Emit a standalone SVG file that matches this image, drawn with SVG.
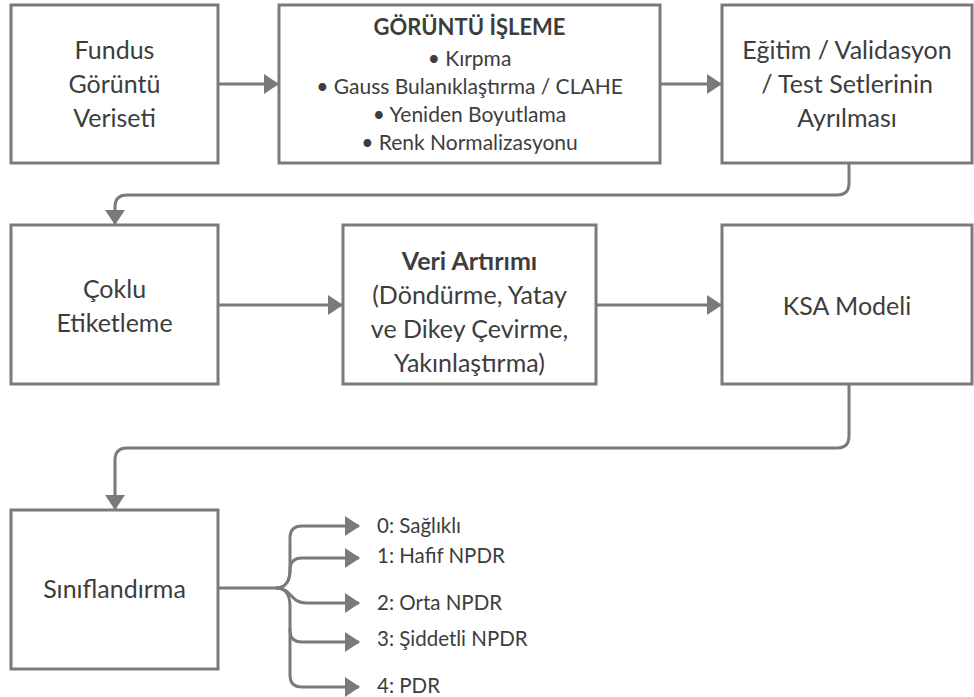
<svg xmlns="http://www.w3.org/2000/svg" width="974" height="697" viewBox="0 0 974 697">
<defs>
<style>
.box{fill:#fff;stroke:#7a7a7a;stroke-width:3}
.t{font-family:Lato,"Noto Sans","Liberation Sans",sans-serif;fill:#3d3d3d;text-anchor:middle}
.big{font-size:25px}
.mid{font-size:21px}
.ttl{font-size:22px;font-weight:bold}
.lab{font-family:Lato,"Noto Sans","Liberation Sans",sans-serif;fill:#3d3d3d;font-size:20.5px}
.b{font-weight:bold}
.c{fill:none;stroke:#7a7a7a;stroke-width:3}
</style>
<marker id="ah" markerUnits="userSpaceOnUse" markerWidth="16" markerHeight="20" refX="14" refY="10" orient="auto">
<path d="M0,0 L15,10 L0,20 Z" fill="#7a7a7a"/>
</marker>
</defs>
<rect width="974" height="697" fill="#fff"/>
<g id="connectors">
<path class="c" d="M218,84 H278" marker-end="url(#ah)"/>
<path class="c" d="M660,84 H721" marker-end="url(#ah)"/>
<path class="c" d="M849,163 V183 Q849,195 837,195 H127 Q115,195 115,207 V224" marker-end="url(#ah)"/>
<path class="c" d="M218,305 H342" marker-end="url(#ah)"/>
<path class="c" d="M596,305 H721" marker-end="url(#ah)"/>
<path class="c" d="M849,384 V436 Q849,448 837,448 H127 Q115,448 115,460 V509" marker-end="url(#ah)"/>
<path class="c" d="M218,588 H276 C286,588 290,580 290,570 V538 Q290,526 302,526 H359" marker-end="url(#ah)"/>
<path class="c" d="M276,588 C286,588 290,580 290,570 Q290,558 302,558 H359" marker-end="url(#ah)"/>
<path class="c" d="M276,588 C292,588 290,603 306,603 H359" marker-end="url(#ah)"/>
<path class="c" d="M276,588 C286,588 290,596 290,606 V630 Q290,642 302,642 H359" marker-end="url(#ah)"/>
<path class="c" d="M290,628 V675 Q290,687 302,687 H359" marker-end="url(#ah)"/>
</g>
<g id="n1">
<rect class="box" x="11" y="5" width="207" height="158"/>
<text class="t big" x="114.5"><tspan x="114.5" y="59">Fundus</tspan><tspan x="114.5" y="93">Görüntü</tspan><tspan x="114.5" y="127">Veriseti</tspan></text>
</g>
<g id="n2">
<rect class="box" x="279" y="5" width="381" height="158"/>
<text class="t mid" x="469.5"><tspan class="ttl" x="469.5" y="35">GÖRÜNTÜ İŞLEME</tspan><tspan x="469.5" y="66">• Kırpma</tspan><tspan x="469.5" y="94">• Gauss Bulanıklaştırma / CLAHE</tspan><tspan x="469.5" y="122">• Yeniden Boyutlama</tspan><tspan x="469.5" y="150">• Renk Normalizasyonu</tspan></text>
</g>
<g id="n3">
<rect class="box" x="722" y="5" width="250" height="158"/>
<text class="t big" x="847"><tspan x="847" y="59">Eğitim / Validasyon</tspan><tspan x="847" y="93">/ Test Setlerinin</tspan><tspan x="847" y="127">Ayrılması</tspan></text>
</g>
<g id="n4">
<rect class="box" x="11" y="225" width="207" height="159"/>
<text class="t big" x="114.5"><tspan x="114.5" y="298">Çoklu</tspan><tspan x="114.5" y="332">Etiketleme</tspan></text>
</g>
<g id="n5">
<rect class="box" x="343" y="225" width="253" height="159"/>
<text class="t big" x="469.5"><tspan class="b" x="469.5" y="270">Veri Artırımı</tspan><tspan x="469.5" y="304">(Döndürme, Yatay</tspan><tspan x="469.5" y="338">ve Dikey Çevirme,</tspan><tspan x="469.5" y="372">Yakınlaştırma)</tspan></text>
</g>
<g id="n6">
<rect class="box" x="722" y="225" width="250" height="159"/>
<text class="t big" x="847" y="315">KSA Modeli</text>
</g>
<g id="n7">
<rect class="box" x="11" y="510" width="207" height="159"/>
<text class="t big" x="114.5" y="598">Sınıflandırma</text>
</g>
<g id="labels">
<text class="lab" x="377" y="533">0: Sağlıklı</text>
<text class="lab" x="377" y="563">1: Hafif NPDR</text>
<text class="lab" x="377" y="610">2: Orta NPDR</text>
<text class="lab" x="377" y="646">3: Şiddetli NPDR</text>
<text class="lab" x="377" y="693">4: PDR</text>
</g>
</svg>
